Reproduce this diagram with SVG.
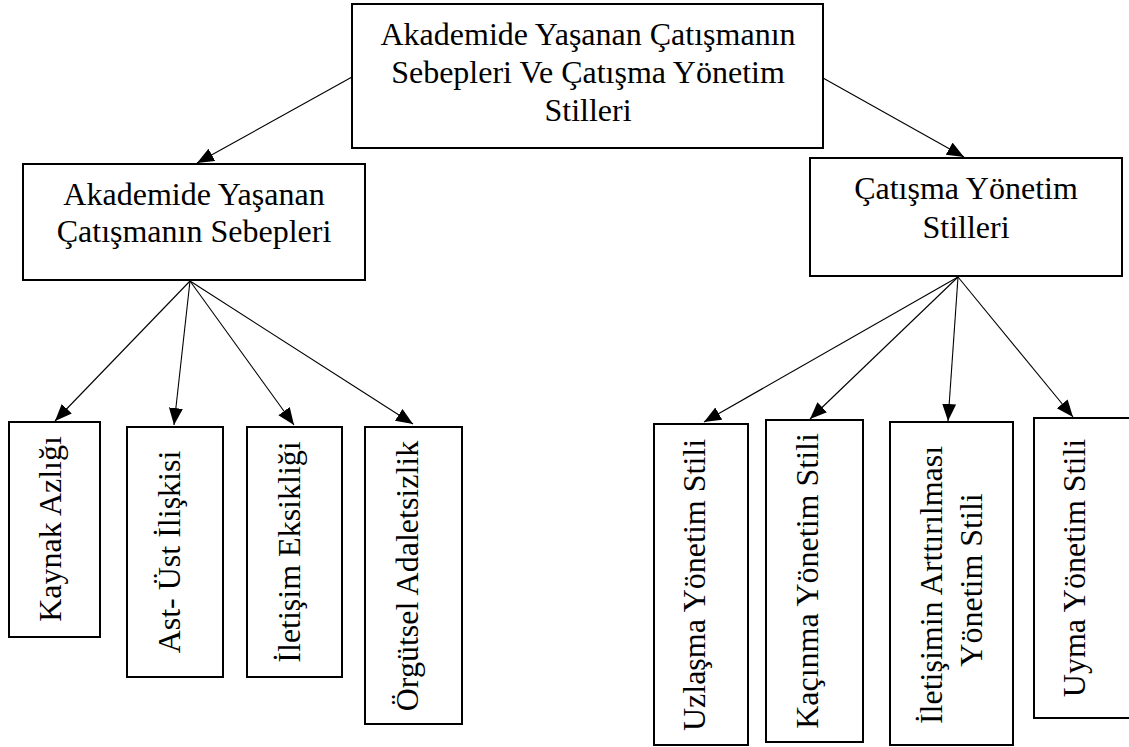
<svg xmlns="http://www.w3.org/2000/svg" width="1129" height="747" viewBox="0 0 1129 747">
<style>
.box{fill:#fff;stroke:#000;stroke-width:2}
.t{font-family:"Liberation Serif","Times New Roman",serif;font-size:32px;fill:#000;text-anchor:middle}
.c{stroke:#000;stroke-width:1.1;fill:none;marker-end:url(#ah)}
</style>
<defs>
<marker id="ah" markerUnits="userSpaceOnUse" markerWidth="18" markerHeight="15" refX="17" refY="7" orient="auto">
<path d="M0,0 L17,7 L0,14 z" fill="#000"/>
</marker>
</defs>
<rect width="1129" height="747" fill="#fff"/>
<g id="connectors">
<line class="c" x1="352" y1="77" x2="197" y2="163"/>
<line class="c" x1="823" y1="78" x2="964" y2="157"/>
<line class="c" x1="190" y1="281" x2="55" y2="421"/>
<line class="c" x1="190" y1="281" x2="174" y2="425"/>
<line class="c" x1="190" y1="281" x2="294" y2="425"/>
<line class="c" x1="190" y1="281" x2="413" y2="424"/>
<line class="c" x1="958" y1="277" x2="704" y2="422"/>
<line class="c" x1="958" y1="277" x2="810" y2="419"/>
<line class="c" x1="958" y1="277" x2="948" y2="421"/>
<line class="c" x1="958" y1="277" x2="1073" y2="417"/>
</g>
<g id="root">
<rect class="box" x="352" y="4" width="471" height="144"/>
<text class="t" x="588" y="45">Akademide Yaşanan Çatışmanın</text>
<text class="t" x="588" y="83">Sebepleri Ve Çatışma Yönetim</text>
<text class="t" x="588" y="121">Stilleri</text>
</g>
<g id="sebepler">
<rect class="box" x="23" y="164" width="342" height="116"/>
<text class="t" x="194" y="205">Akademide Yaşanan</text>
<text class="t" x="194" y="242">Çatışmanın Sebepleri</text>
</g>
<g id="stiller">
<rect class="box" x="810" y="158" width="312" height="118"/>
<text class="t" x="966" y="199">Çatışma Yönetim</text>
<text class="t" x="966" y="238">Stilleri</text>
</g>
<g id="kaynak">
<rect class="box" x="9" y="422" width="91" height="215"/>
<text class="t" transform="translate(61,529) rotate(-90)">Kaynak Azlığı</text>
</g>
<g id="astust">
<rect class="box" x="127" y="427" width="96" height="250"/>
<text class="t" transform="translate(180,552) rotate(-90)">Ast- Üst İlişkisi</text>
</g>
<g id="iletisim">
<rect class="box" x="247" y="427" width="95" height="250"/>
<text class="t" transform="translate(300,552) rotate(-90)">İletişim Eksikliği</text>
</g>
<g id="orgutsel">
<rect class="box" x="365" y="427" width="97" height="297"/>
<text class="t" transform="translate(418,576) rotate(-90)">Örgütsel Adaletsizlik</text>
</g>
<g id="uzlasma">
<rect class="box" x="654" y="424" width="94" height="321"/>
<text class="t" transform="translate(705,585) rotate(-90)">Uzlaşma Yönetim Stili</text>
</g>
<g id="kacinma">
<rect class="box" x="766" y="420" width="97" height="322"/>
<text class="t" transform="translate(818,581) rotate(-90)">Kaçınma Yönetim Stili</text>
</g>
<g id="arttirma">
<rect class="box" x="890" y="422" width="123" height="323"/>
<text class="t" transform="translate(942,585) rotate(-90)">İletişimin Arttırılması</text>
<text class="t" transform="translate(982,580) rotate(-90)">Yönetim Stili</text>
</g>
<g id="uyma">
<rect class="box" x="1034" y="418" width="110" height="300"/>
<text class="t" transform="translate(1085,568) rotate(-90)">Uyma Yönetim Stili</text>
</g>
</svg>
